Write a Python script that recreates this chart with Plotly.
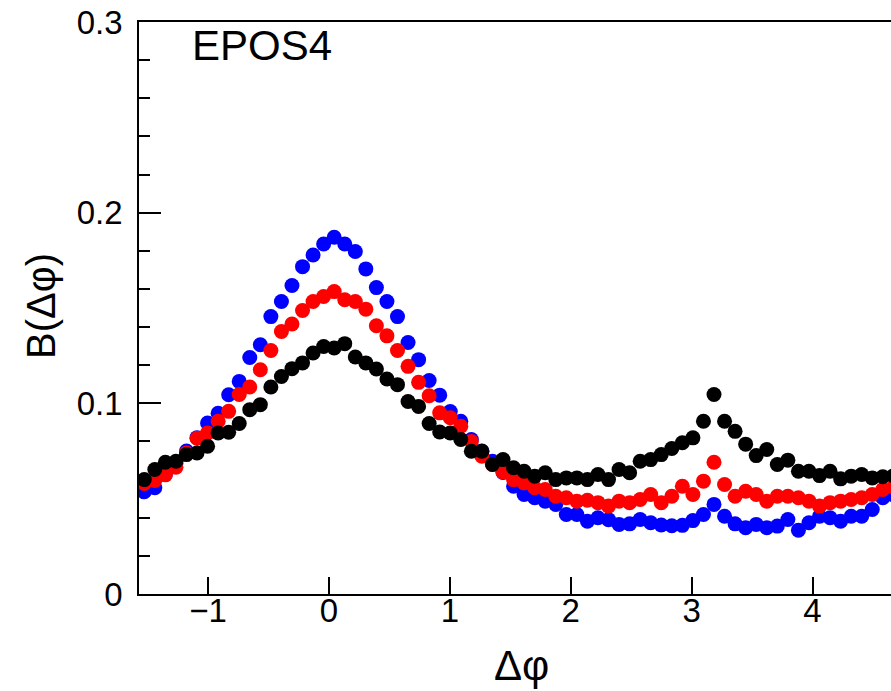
import math
import plotly.graph_objects as go

# Histogram binning: 72 bins over [-pi/2, 3pi/2]
N_BINS = 72
X_LO = -math.pi / 2
BIN_W = 2 * math.pi / N_BINS
dphi = [X_LO + (i + 0.5) * BIN_W for i in range(N_BINS)]

blue = [0.0536, 0.0557, 0.0630, 0.0685, 0.0750, 0.0820, 0.0897, 0.0948, 0.1045, 0.1115,
        0.1240, 0.1307, 0.1455, 0.1534, 0.1618, 0.1717, 0.1778, 0.1836, 0.1871, 0.1836,
        0.1796, 0.1705, 0.1607, 0.1534, 0.1455, 0.1319, 0.1229, 0.1120, 0.1043, 0.0957,
        0.0906, 0.0810, 0.0750, 0.0696, 0.0637, 0.0565, 0.0522, 0.0505, 0.0487, 0.0470,
        0.0417, 0.0417, 0.0382, 0.0400, 0.0390, 0.0365, 0.0368, 0.0391, 0.0374, 0.0362,
        0.0358, 0.0360, 0.0385, 0.0417, 0.0470, 0.0408, 0.0368, 0.0348, 0.0365, 0.0348,
        0.0356, 0.0391, 0.0335, 0.0374, 0.0408, 0.0400, 0.0382, 0.0408, 0.0408, 0.0443,
        0.0505, 0.0520]

red = [0.0580, 0.0595, 0.0625, 0.0665, 0.0740, 0.0817, 0.0845, 0.0906, 0.0958, 0.1046,
       0.1086, 0.1176, 0.1277, 0.1377, 0.1416, 0.1487, 0.1534, 0.1560, 0.1586, 0.1543,
       0.1534, 0.1494, 0.1407, 0.1354, 0.1277, 0.1194, 0.1110, 0.1040, 0.0950, 0.0924,
       0.0880, 0.0800, 0.0723, 0.0679, 0.0640, 0.0600, 0.0583, 0.0557, 0.0548, 0.0513,
       0.0505, 0.0487, 0.0492, 0.0479, 0.0461, 0.0487, 0.0479, 0.0496, 0.0522, 0.0479,
       0.0513, 0.0565, 0.0522, 0.0592, 0.0691, 0.0574, 0.0513, 0.0539, 0.0522, 0.0487,
       0.0513, 0.0513, 0.0505, 0.0487, 0.0461, 0.0479, 0.0487, 0.0496, 0.0505, 0.0522,
       0.0548, 0.0560]

black = [0.0600, 0.0653, 0.0691, 0.0696, 0.0731, 0.0740, 0.0775, 0.0845, 0.0848, 0.0894,
         0.0967, 0.0993, 0.1086, 0.1141, 0.1182, 0.1212, 0.1264, 0.1298, 0.1290, 0.1313,
         0.1243, 0.1212, 0.1180, 0.1128, 0.1098, 0.1010, 0.0984, 0.0894, 0.0850, 0.0845,
         0.0810, 0.0749, 0.0749, 0.0679, 0.0705, 0.0662, 0.0644, 0.0618, 0.0636, 0.0600,
         0.0609, 0.0609, 0.0600, 0.0627, 0.0600, 0.0653, 0.0636, 0.0696, 0.0705, 0.0731,
         0.0763, 0.0793, 0.0819, 0.0906, 0.1046, 0.0906, 0.0853, 0.0786, 0.0726, 0.0758,
         0.0679, 0.0702, 0.0644, 0.0644, 0.0621, 0.0644, 0.0604, 0.0618, 0.0627, 0.0609,
         0.0615, 0.0620]

x_ticks = [-1, 0, 1, 2, 3, 4]
y_ticks = [0, 0.1, 0.2, 0.3]

W, H = 891, 691
L, T, B = 139, 22, 97
PX_PER_UNIT = 120.9
x_hi = X_LO + (W - L) / PX_PER_UNIT

FONT = "Liberation Sans, Arial, Helvetica, sans-serif"

fig = go.Figure()
for vals, col in [(blue, "#0000ff"), (red, "#ff0000"), (black, "#000000")]:
    fig.add_trace(go.Scatter(
        x=dphi, y=vals, mode="markers",
        marker=dict(color=col, size=15, line=dict(width=0)),
        showlegend=False, hoverinfo="skip",
    ))

fig.update_layout(
    width=W, height=H,
    margin=dict(l=L, r=0, t=T, b=B),
    paper_bgcolor="white", plot_bgcolor="white",
    font=dict(family=FONT, color="black"),
    xaxis=dict(
        range=[X_LO, x_hi], tickvals=x_ticks,
        ticktext=["\u2212" + str(-v) if v < 0 else str(v) for v in x_ticks],
        ticks="inside", ticklen=17, tickwidth=1.5, tickcolor="black",
        showline=True, linecolor="black", linewidth=1.5, mirror=True,
        showgrid=False, zeroline=False,
        tickfont=dict(size=33, family=FONT, color="black"),
        ticklabelstandoff=-13,
    ),
    yaxis=dict(
        range=[0, 0.3], tickvals=y_ticks, ticktext=["0", "0.1", "0.2", "0.3"],
        ticks="inside", ticklen=22, tickwidth=1.5, tickcolor="black",
        minor=dict(dtick=0.02, ticks="inside", ticklen=11, tickwidth=1.5,
                   tickcolor="black", showgrid=False),
        showline=True, linecolor="black", linewidth=1.5, mirror=False,
        showgrid=False, zeroline=False,
        tickfont=dict(size=33, family=FONT, color="black"),
        ticklabelstandoff=8,
    ),
)

fig.add_annotation(text="EPOS4", xref="paper", yref="paper",
                   x=(190 - L) / (W - L), y=1 - (45 - T) / (H - T - B),
                   xanchor="left", yanchor="middle", showarrow=False,
                   font=dict(size=42, family=FONT, color="black"))
fig.add_annotation(text="B(\u0394\u03c6)", xref="paper", yref="paper",
                   x=(41 - L) / (W - L), y=1 - (306 - T) / (H - T - B),
                   xanchor="center", yanchor="middle", textangle=-90, showarrow=False,
                   font=dict(size=40, family=FONT, color="black"))
fig.add_annotation(text="\u0394\u03c6", xref="paper", yref="paper",
                   x=(521 - L) / (W - L), y=1 - (665 - T) / (H - T - B),
                   xanchor="center", yanchor="middle", showarrow=False,
                   font=dict(size=42, family=FONT, color="black"))

fig.write_html("out.html", config={"displayModeBar": False},
               post_script="document.body.style.margin='0';document.body.style.overflow='hidden';")
